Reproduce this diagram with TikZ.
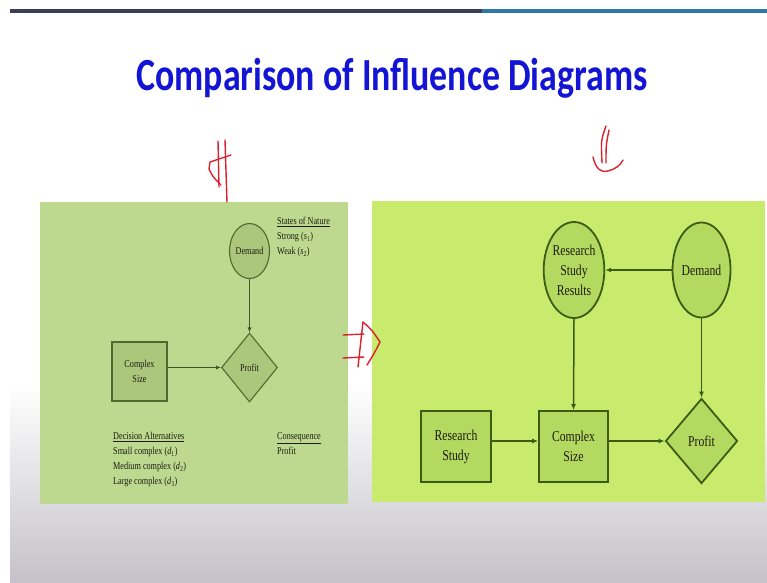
\documentclass[tikz,border=0pt]{standalone}
\usepackage{fontspec}
\setmainfont{Liberation Serif}[FakeStretch=0.78]
\newfontfamily\titlefont{Carlito}[FakeStretch=0.78]
\usetikzlibrary{shapes.geometric,arrows.meta}

\definecolor{barDark}{HTML}{3D3D55}
\definecolor{barBlue}{HTML}{2F78A8}
\definecolor{titleBlue}{HTML}{1414D4}
\definecolor{floorGray}{HTML}{C4C2C8}
\definecolor{panelOld}{HTML}{BDD98F}
\definecolor{nodeOld}{HTML}{ABC77C}
\definecolor{edgeOld}{HTML}{4D6B2E}
\definecolor{panelNew}{HTML}{C8EB6E}
\definecolor{nodeNew}{HTML}{B4D960}
\definecolor{edgeNew}{HTML}{3C5C16}
\definecolor{inkText}{HTML}{1C1C10}
\definecolor{penRed}{HTML}{D8222E}

\tikzset{
  oldnode/.style={draw=edgeOld, fill=nodeOld, line width=1.1pt, inner sep=0pt,
    text=inkText, align=center, font=\fontsize{10.5}{15}\selectfont},
  newnode/.style={draw=edgeNew, fill=nodeNew, line width=1.8pt, inner sep=0pt,
    text=inkText, align=center, font=\fontsize{15}{20}\selectfont},
  oldarrow/.style={draw=edgeOld!80!black, line width=0.9pt,
    -{Latex[length=5pt,width=4pt]}},
  newarrow/.style={draw=edgeNew, line width=1.5pt,
    -{Latex[length=6pt,width=5pt]}},
  legend/.style={anchor=north west, align=left, inner sep=0pt, text=inkText,
    font=\fontsize{10.5}{15}\selectfont},
  pen/.style={draw=penRed, line width=1.4pt, line cap=round, line join=round}
}

\begin{document}
\begin{tikzpicture}[x=1pt,y=-1pt]
  \useasboundingbox (0,0) rectangle (767,582);
  \fill[white] (0,0) rectangle (767,582);

  % slide floor shading and top rule
  \shade[top color=white, bottom color=floorGray] (10,385) rectangle (767,582);
  \fill[barDark] (10,9) rectangle (482,13);
  \fill[barBlue] (482,9) rectangle (767,13);

  % title
  \node[anchor=base, text=titleBlue, inner sep=0pt,
        font=\titlefont\bfseries\fontsize{46}{50}\selectfont]
    (title) at (392,90) {Comparison of Influence Diagrams};

  % ---------- first influence diagram ----------
  \fill[panelOld] (40,202) rectangle (348,504);

  \node[oldnode, ellipse, minimum width=40pt, minimum height=55pt]
    (Ldemand) at (249.5,251) {Demand};
  \node[oldnode, diamond, minimum width=56pt, minimum height=69pt]
    (Lprofit) at (249.5,367.5) {Profit};
  \node[oldnode, rectangle, minimum width=55pt, minimum height=59pt]
    (Lsize) at (139.5,371.5) {Complex\\Size};

  \draw[oldarrow] (Ldemand.south) -- (Lprofit.north);
  \draw[oldarrow] (Lsize.east |- Lprofit.west) -- (Lprofit.west);

  \node[legend] (Lnature) at (277,217)
    {\underline{States of Nature}\\Strong (\textit{s}\textsubscript{1})\\Weak (\textit{s}\textsubscript{2})};
  \node[legend] (Ldecision) at (113,432)
    {\underline{Decision Alternatives}\\Small complex (\textit{d}\textsubscript{1})\\Medium complex (\textit{d}\textsubscript{2})\\Large complex (\textit{d}\textsubscript{3})};
  \node[legend] (Lconseq) at (277,432)
    {\underline{Consequence}\\Profit};

  % ---------- second influence diagram ----------
  \fill[panelNew] (372,201) rectangle (765,502);

  \node[newnode, ellipse, minimum width=58pt, minimum height=96pt]
    (Rresults) at (574,270) {Research\\Study\\Results};
  \node[newnode, ellipse, minimum width=58pt, minimum height=95pt]
    (Rdemand) at (701.5,270) {Demand};
  \node[newnode, rectangle, minimum width=70pt, minimum height=71pt]
    (Rstudy) at (456,446.5) {Research\\Study};
  \node[newnode, rectangle, minimum width=69pt, minimum height=71pt]
    (Rsize) at (573.5,446.5) {Complex\\Size};
  \node[newnode, diamond, minimum width=72pt, minimum height=85pt]
    (Rprofit) at (701.5,441) {Profit};

  \draw[newarrow] (Rdemand.west) -- (Rresults.east);
  \draw[newarrow] (Rresults.south) -- (Rsize.north);
  \draw[newarrow] (Rdemand.south) -- (Rprofit.north);
  \draw[newarrow] (Rstudy.east |- Rprofit.west) -- (Rsize.west |- Rprofit.west);
  \draw[newarrow] (Rsize.east |- Rprofit.west) -- (Rprofit.west);

  % ---------- hand-drawn pen marks ----------
  % down arrow over the first diagram
  \draw[pen] (218,141) -- (219,187);
  \draw[pen] (225,140) -- (227,202);
  \draw[pen] (231,155) -- (210,162) -- (209,169) .. controls (213,177) .. (221,185);
  % down arrow over the second diagram
  \draw[pen] (606,126) .. controls (601,140) .. (602,163);
  \draw[pen] (609,130) .. controls (606,145) .. (606,163);
  \draw[pen] (593,157) .. controls (596,170) and (602,173) .. (608,171)
             .. controls (615,169) and (620,166) .. (623,160);
  % implication arrow between the diagrams
  \draw[pen] (343,335) -- (364,334);
  \draw[pen] (343,358) -- (364,357);
  \draw[pen] (363,322) -- (358,367);
  \draw[pen] (363,322) .. controls (372,330) .. (380,342) .. controls (375,352) .. (367,365);
\end{tikzpicture}
\end{document}
